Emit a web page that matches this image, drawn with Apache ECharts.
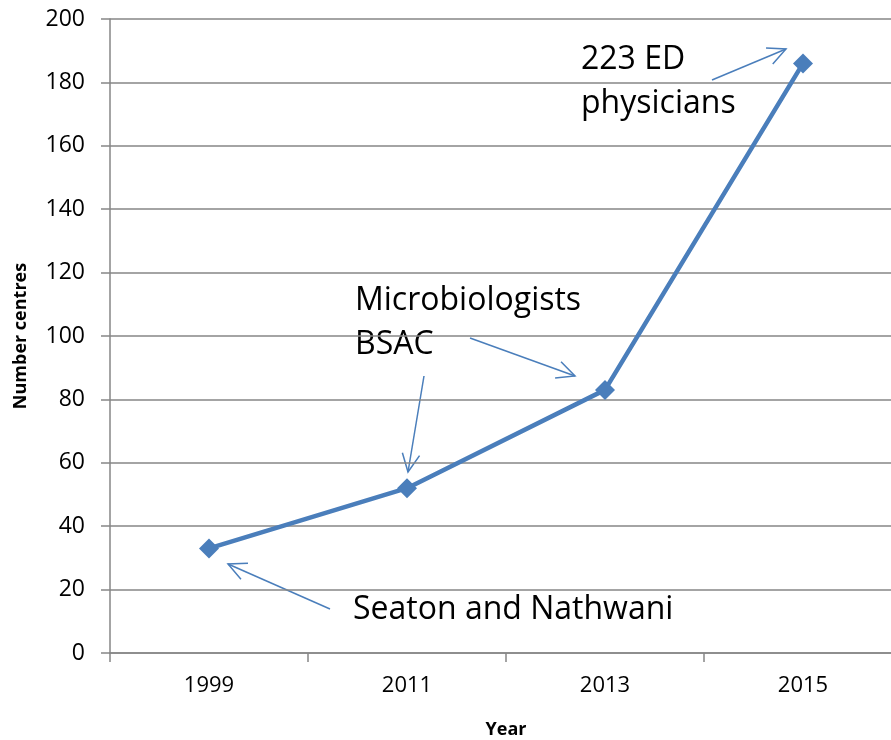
<!DOCTYPE html>
<html>
<head>
<meta charset="utf-8">
<script src="https://cdn.jsdelivr.net/npm/echarts@6/dist/echarts.min.js"></script>
<style>
html, body {margin: 0; padding: 0; background: #fff;}
#main {width: 891px; height: 740px;}
</style>
</head>
<body>
<div id="main"></div>
<script>
var years = ['1999', '2011', '2013', '2015'];
var centres = [33, 52, 83, 186];

// annotation texts and arrows (pixel positions)
var notes = [
	{text: 'Seaton and Nathwani', x: 353, y: 610},
	{text: 'Microbiologists\nBSAC', x: 355, y: 323},
	{text: '223 ED\nphysicians', x: 581, y: 82}
];
var arrows = [
	[330, 609, 228, 564],
	[424, 376, 408, 472],
	[470, 338, 575, 376],
	[712, 80, 786, 49]
];

var blue = '#4a7ebb';
var gray = '#868686';
var font = 'Open Sans';

function arrowGraphics() {
	var out = [];
	arrows.forEach(function(a) {
		var ang = Math.atan2(a[3] - a[1], a[2] - a[0]);
		var len = 20, spread = 0.45;
		var p1 = [a[2] - len * Math.cos(ang - spread), a[3] - len * Math.sin(ang - spread)];
		var p2 = [a[2] - len * Math.cos(ang + spread), a[3] - len * Math.sin(ang + spread)];
		out.push({
			type: 'line',
			shape: {x1: a[0], y1: a[1], x2: a[2], y2: a[3]},
			style: {stroke: blue, lineWidth: 1.5}
		});
		out.push({
			type: 'polyline',
			shape: {points: [p1, [a[2], a[3]], p2]},
			style: {stroke: blue, lineWidth: 1.5, fill: null}
		});
	});
	notes.forEach(function(n) {
		out.push({
			type: 'text',
			x: n.x,
			y: n.y,
			style: {
				text: n.text,
				font: '32px "' + font + '"',
				fill: '#000',
				lineHeight: 44,
				verticalAlign: 'middle'
			}
		});
	});
	return out;
}

var myChart = echarts.init(document.getElementById('main'));
var option = {
	animation: false,
	grid: {left: 110, top: 19, right: -11, bottom: 87, containLabel: false, outerBoundsMode: 'none'},
	xAxis: {
		type: 'category',
		data: years,
		boundaryGap: true,
		name: 'Year',
		nameLocation: 'middle',
		nameGap: 68,
		nameTextStyle: {fontFamily: font, fontWeight: 'bold', fontSize: 18, color: '#000'},
		axisLine: {lineStyle: {color: gray, width: 1.5}},
		axisTick: {show: true, length: 9, alignWithLabel: false, lineStyle: {color: gray, width: 1.5}},
		axisLabel: {fontFamily: font, fontSize: 22, color: '#000', margin: 22},
		splitLine: {show: false}
	},
	yAxis: {
		type: 'value',
		min: 0,
		max: 200,
		interval: 20,
		name: 'Number centres',
		nameLocation: 'middle',
		nameRotate: 90,
		nameGap: 80,
		nameTextStyle: {fontFamily: font, fontWeight: 'bold', fontSize: 18, color: '#000'},
		axisLine: {show: true, lineStyle: {color: gray, width: 1.5}},
		axisTick: {show: true, length: 9, lineStyle: {color: gray, width: 1.5}},
		axisLabel: {fontFamily: font, fontSize: 23, color: '#000', margin: 25},
		splitLine: {show: true, lineStyle: {color: gray, width: 1.5}}
	},
	series: [{
		type: 'line',
		data: centres,
		symbol: 'diamond',
		symbolSize: 20,
		lineStyle: {color: blue, width: 4.5},
		itemStyle: {color: blue}
	}],
	graphic: arrowGraphics()
};
myChart.setOption(option);
</script>
</body>
</html>
